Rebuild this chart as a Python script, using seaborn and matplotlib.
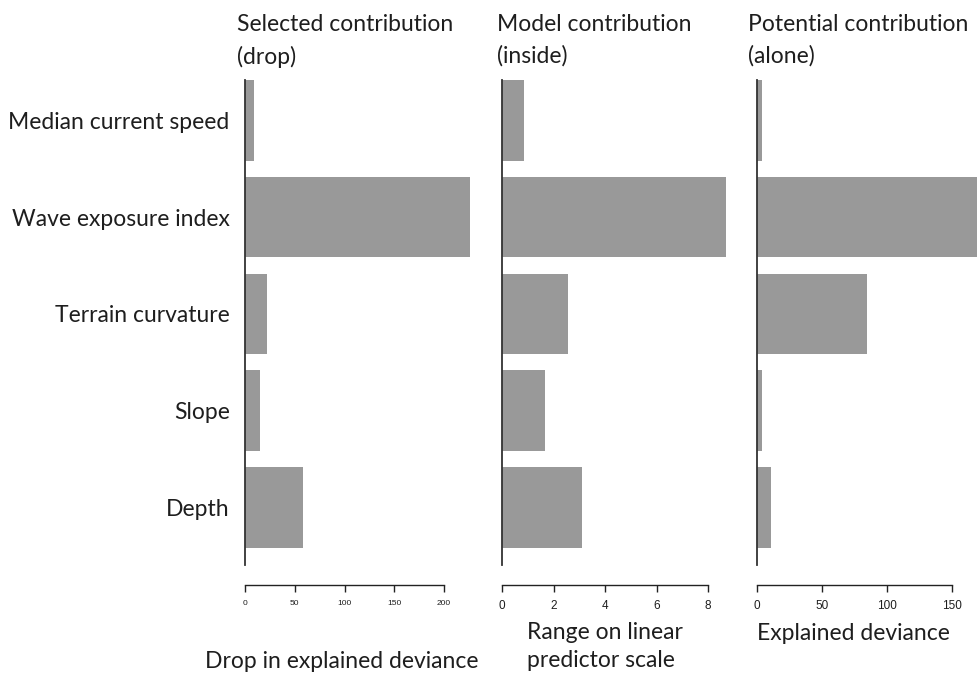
import matplotlib
matplotlib.use("Agg")
import matplotlib.pyplot as plt
import seaborn as sns
import pandas as pd

# Predictor names and the three contribution measures
predictors = ["Median current speed", "Wave exposure index", "Terrain curvature", "Slope", "Depth"]
drop_deviance = [9, 226, 22, 15, 58]          # selected contribution (drop)
range_linear = [0.85, 8.7, 2.55, 1.67, 3.1]   # model contribution (inside)
alone_deviance = [4, 175, 85, 4, 11]          # potential contribution (alone)

titles = ["Selected contribution\n(drop)", "Model contribution\n(inside)", "Potential contribution\n(alone)"]
xlabels = ["Drop in explained deviance", "Range on linear\npredictor scale", "Explained deviance"]
ticks = [[0, 50, 100, 150, 200], [0, 2, 4, 6, 8], [0, 50, 100, 150]]

df = pd.DataFrame({
    "predictor": predictors,
    "drop": drop_deviance,
    "inside": range_linear,
    "alone": alone_deviance,
})

sns.set_style("white")
plt.rcParams["font.family"] = ["Lato", "DejaVu Sans"]

W, H = 978, 675
fig = plt.figure(figsize=(W / 100, H / 100), dpi=100)

def frac(x0, x1, ytop, ybot):
    return [x0 / W, 1 - ybot / H, (x1 - x0) / W, (ybot - ytop) / H]

# panel geometry: (column, left px, right px, xlim max, tick label size)
panels = [
    ("drop", 245, 475, 231.0, 6),
    ("inside", 502, 734, 9.0, 8.5),
    ("alone", 757, 978, 170.0, 8.5),
]

text_col = "#1e1e1e"
big = 16.5
for i, (col, x0, x1, xmax, tsize) in enumerate(panels):
    ax = fig.add_axes(frac(x0, x1, 80, 585))
    sns.barplot(data=df, x=col, y="predictor", orient="h", color="#999999",
                saturation=1, width=0.833, ax=ax, linewidth=0)
    ax.set_xlim(0, xmax)
    ax.set_ylim(4.80, -0.4167)
    for s in ("top", "right"):
        ax.spines[s].set_visible(False)
    ax.spines["left"].set_bounds(-0.417, 4.594)
    ax.spines["left"].set_color("#333333")
    ax.spines["left"].set_linewidth(1.3)
    ax.spines["bottom"].set_bounds(ticks[i][0], ticks[i][-1])
    ax.spines["bottom"].set_color("#222222")
    ax.spines["bottom"].set_linewidth(1.0)
    ax.set_xticks(ticks[i])
    ax.tick_params(axis="x", bottom=True, direction="out", length=5, width=1.0,
                   color="#222222", labelsize=tsize, pad=6, labelcolor=text_col)
    for lab in ax.get_xticklabels():
        lab.set_fontfamily(["Liberation Sans", "DejaVu Sans"])
    ax.set_xlabel("")
    ax.set_ylabel("")
    if i == 0:
        ax.tick_params(axis="y", left=False, length=0, pad=11, labelsize=big,
                       labelcolor=text_col)
    else:
        ax.tick_params(axis="y", left=False, length=0, labelleft=False)
    ax.set_facecolor("white")

# panel titles
for tx, t in zip([237, 497, 748], titles):
    fig.text(tx / W, 1 - 14 / H, t, ha="left", va="top", fontsize=big,
             color=text_col, linespacing=1.6)

# axis captions
fig.text(205 / W, 1 - 662 / H, xlabels[0], ha="left", va="center", fontsize=big, color=text_col)
fig.text(527 / W, 1 - 622 / H, xlabels[1], ha="left", va="top", fontsize=big,
         color=text_col, linespacing=1.4)
fig.text(757 / W, 1 - 633 / H, xlabels[2], ha="left", va="center", fontsize=big, color=text_col)

fig.savefig("out.png", dpi=100, facecolor="white")
